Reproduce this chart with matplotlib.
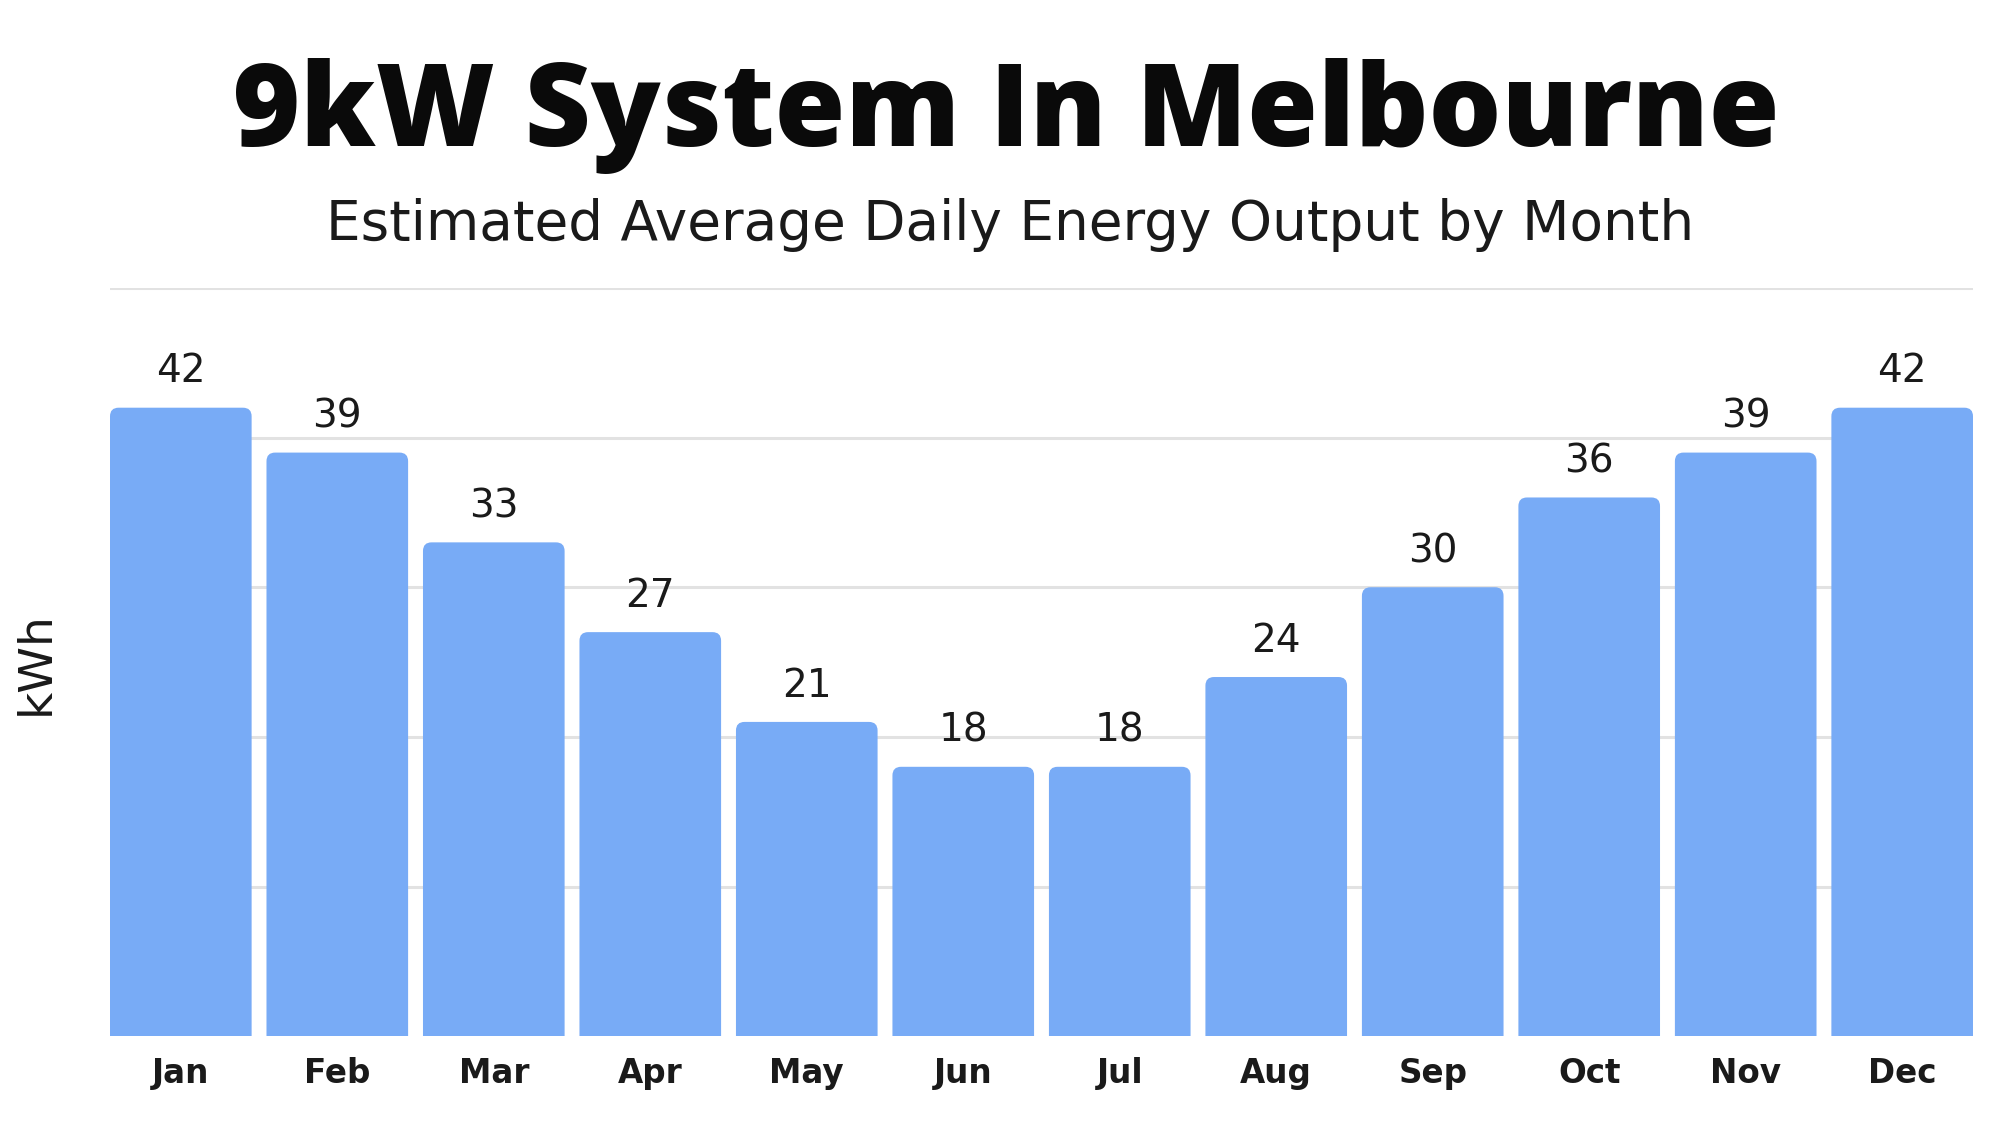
import matplotlib.pyplot as plt
from matplotlib.patches import FancyBboxPatch

months = ["Jan", "Feb", "Mar", "Apr", "May", "Jun",
          "Jul", "Aug", "Sep", "Oct", "Nov", "Dec"]
output_kwh = [42, 39, 33, 27, 21, 18, 18, 24, 30, 36, 39, 42]
grid_ticks = [10, 20, 30, 40, 50]

bar_color = "#78abf6"
bar_width = 0.905

fig = plt.figure(figsize=(20, 11.25), dpi=100)
ax = fig.add_axes([0.055, 0.079, 0.9315, 0.665])

x = list(range(len(months)))
ax.set_xlim(-bar_width / 2, len(months) - 1 + bar_width / 2)
ax.set_ylim(0, 50)

# horizontal gridlines behind the bars
for t in grid_ticks:
    ax.axhline(t, color="#e2e2e2", lw=2.2, zorder=0)

# bars with slightly rounded tops (bottom corners hidden below the axis)
aspect = (1863 / 11.9) / (748 / 50)
for xi, v in zip(x, output_kwh):
    patch = FancyBboxPatch((xi - bar_width / 2, -2), bar_width, v + 2,
                           boxstyle="round,pad=0,rounding_size=0.055",
                           mutation_aspect=aspect,
                           facecolor=bar_color, edgecolor="none", zorder=2)
    ax.add_patch(patch)
    ax.text(xi, v + 1.15, str(v), ha="center", va="bottom",
            fontsize=28, family="DejaVu Sans", color="#1a1a1a", zorder=3)

ax.set_xticks(x)
ax.set_xticklabels(months, fontsize=23.5, fontweight="bold", family="DejaVu Sans",
                   color="#1a1a1a")
ax.tick_params(axis="x", length=0, pad=15)
ax.set_yticks([])
for s in ax.spines.values():
    s.set_visible(False)

fig.text(0.018, 0.411, "kWh", rotation=90, ha="center", va="center",
         fontsize=34, family="DejaVu Sans", color="#1a1a1a")

fig.text(0.503, 0.897, "9kW System In Melbourne", ha="center", va="center",
         fontsize=82.5, fontweight="heavy", family="Open Sans", color="#0a0a0a")
fig.text(0.505, 0.8, "Estimated Average Daily Energy Output by Month",
         ha="center", va="center", fontsize=39.5, family="DejaVu Sans",
         color="#1a1a1a")

fig.savefig("out.png", dpi=100, facecolor="white")
